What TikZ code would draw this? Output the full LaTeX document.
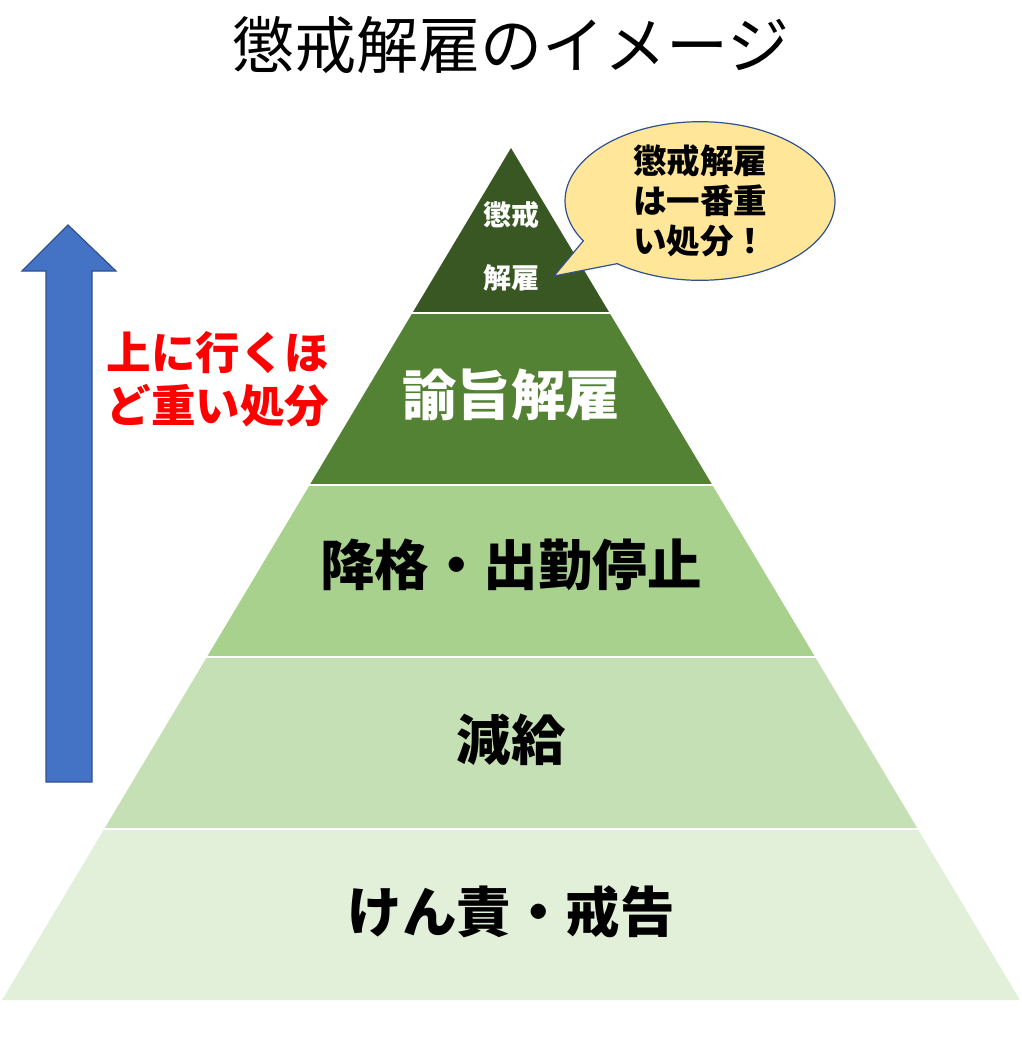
\documentclass[tikz,border=0pt]{standalone}
\usepackage{fontspec}
\setmainfont{Noto Sans CJK JP}
\usetikzlibrary{shapes.callouts,positioning}
\definecolor{band1}{HTML}{385723}
\definecolor{band2}{HTML}{548235}
\definecolor{band3}{HTML}{A9D18E}
\definecolor{band4}{HTML}{C5E0B4}
\definecolor{band5}{HTML}{E2F0D9}
\definecolor{arrowblue}{HTML}{4472C4}
\definecolor{edgeblue}{HTML}{2F528F}
\definecolor{bubble}{HTML}{FFE699}
\tikzset{
  layer/.style   = {draw=white, line width=2.5pt},
  label/.style   = {font=\bfseries\fontsize{54.5}{60}\selectfont, inner sep=0pt},
  small/.style   = {font=\bfseries\fontsize{28}{30}\selectfont, inner sep=0pt, text=white},
  note/.style    = {font=\bfseries\fontsize{44.5}{53}\selectfont, align=center, text=red, inner sep=0pt},
  bubbletxt/.style = {ellipse callout, draw=edgeblue, line width=1.2pt, fill=bubble,
                   minimum width=270pt, minimum height=136pt, inner sep=0pt, align=center,
                   callout pointer arc=22,
                   font=\bfseries\fontsize{33.5}{40}\selectfont},
  uparrow/.style = {draw=edgeblue, line width=1.2pt, fill=arrowblue, line join=miter}
}
\begin{document}
\begin{tikzpicture}[x=1pt,y=-1pt]
\useasboundingbox (0,0) rectangle (1021,1047);

% title
\node[font=\fontsize{62}{66}\selectfont, inner sep=0pt] (title) at (511,45) {懲戒解雇のイメージ};

% pyramid, bottom to top
\fill[band5] (2,1000) -- (1020,1000) -- (917.8,829) -- (104.2,829) -- cycle;
\fill[band4] (104.2,829) -- (917.8,829) -- (815.1,657) -- (206.9,657) -- cycle;
\fill[band3] (206.9,657) -- (815.1,657) -- (712.3,485) -- (309.7,485) -- cycle;
\fill[band2] (309.7,485) -- (712.3,485) -- (609.6,313) -- (412.4,313) -- cycle;
\fill[band1] (412.4,313) -- (609.6,313) -- (511,148) -- cycle;
\foreach \y/\xl/\xr in {313/412.4/609.6, 485/309.7/712.3, 657/206.9/815.1, 829/104.2/917.8}
  \draw[layer] (\xl-3,\y) -- (\xr+3,\y);

% labels of the layers
\node[small] (choukai) at (511,215) {懲戒};
\node[small] (kaiko) at (511,278) {解雇};
\node[label, text=white] (yushi) at (511,395) {諭旨解雇};
\node[label] (kakusage) at (511,565) {降格・出勤停止};
\node[label] (genkyu) at (511,740) {減給};
\node[label] (kenseki) at (511,912) {けん責・戒告};

% speech bubble
\coordinate (tip) at (554,276);
\node[bubbletxt, callout absolute pointer={(tip)}] (bubble) at (700,201)
  {懲戒解雇\\は一番重\\い処分！};

% arrow on the left
\draw[uparrow] (46,782) -- (46,271) -- (22,271) -- (68,225) -- (116,271)
  -- (92,271) -- (92,782) -- cycle;
\node[note] (heavier) at (218,379) {上に行くほ\\ど重い処分};

\end{tikzpicture}
\end{document}
